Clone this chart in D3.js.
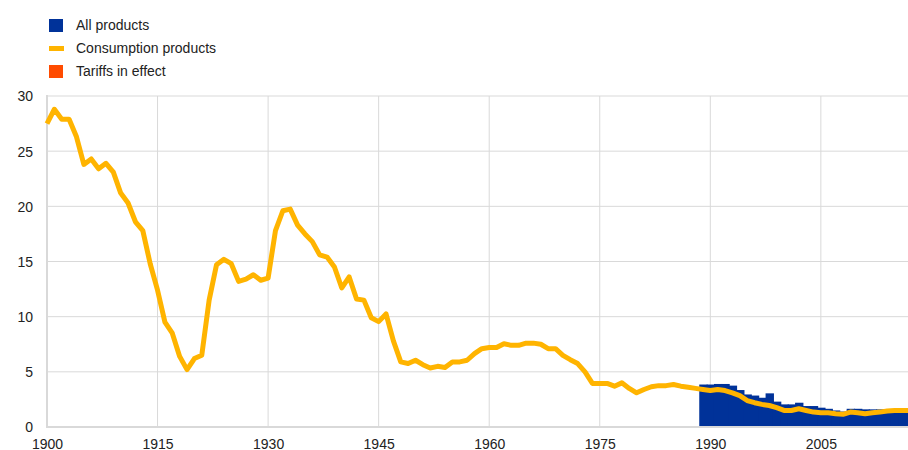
<!DOCTYPE html>
<html>
<head>
<meta charset="utf-8">
<script src="https://cdn.jsdelivr.net/npm/d3@7"></script>
<style>
  body { margin: 0; background: #fff; }
  svg { display: block; font-family: Arial, "Liberation Sans", sans-serif; }
  .axis path, .axis line { display: none; }
  .axis text { font-size: 14px; fill: #222; }
</style>
</head>
<body>
<svg id="chart" width="908" height="450"></svg>
<script>
// first year of the consumption series
const startYear = 1900
// consumption products, 1900-2017
const consumption = [
  27.5, 28.8, 27.9, 27.9, 26.3, 23.8, 24.3, 23.4, 23.9, 23.1,
  21.2, 20.3, 18.6, 17.8, 14.8, 12.4, 9.5, 8.5, 6.4, 5.2,
  6.2, 6.5, 11.5, 14.7, 15.2, 14.8, 13.2, 13.4, 13.8, 13.3,
  13.5, 17.8, 19.6, 19.75, 18.3, 17.5, 16.8, 15.6, 15.4, 14.5,
  12.6, 13.6, 11.6, 11.5, 9.9, 9.55, 10.25, 7.8, 5.9, 5.75,
  6.05, 5.65, 5.35, 5.5, 5.4, 5.9, 5.9, 6.05, 6.65, 7.1,
  7.2, 7.2, 7.55, 7.4, 7.4, 7.6, 7.6, 7.5, 7.1, 7.1,
  6.5, 6.1, 5.75, 5.0, 3.95, 3.95, 3.95, 3.7, 4.0, 3.5,
  3.1, 3.4, 3.65, 3.75, 3.75, 3.85, 3.7, 3.6, 3.5, 3.4,
  3.3, 3.4, 3.3, 3.1, 2.85, 2.4, 2.2, 2.05, 1.95, 1.75,
  1.5, 1.5, 1.65, 1.5, 1.35, 1.3, 1.3, 1.2, 1.15, 1.35,
  1.3, 1.2, 1.3, 1.35, 1.45, 1.5, 1.5, 1.5
]
// all products, 1989-2017
const allStart = 1989
const allProducts = [
  3.85, 3.85, 3.9, 3.9, 3.75, 3.35, 2.95, 2.85, 2.65, 3.05,
  2.3, 2.05, 2.05, 2.2, 1.9, 1.9, 1.75, 1.65, 1.5, 1.4,
  1.65, 1.65, 1.6, 1.6, 1.6, 1.6, 1.6, 1.6, 1.6
]
const xTicks = [1900, 1915, 1930, 1945, 1960, 1975, 1990, 2005]
const yTicks = [0, 5, 10, 15, 20, 25, 30]
const legendItems = [
  { name: 'All products', color: '#003299', kind: 'box' },
  { name: 'Consumption products', color: '#ffb400', kind: 'line' },
  { name: 'Tariffs in effect', color: '#ff4b00', kind: 'box' }
]

const lineData = consumption.map((v, i) => ({ year: startYear + i, value: v }))
const barData = allProducts.map((v, i) => ({ year: allStart + i, value: v }))

const svg = d3.select('#chart')
const plot = { left: 47, right: 908, top: 96, bottom: 427 }

const x = d3.scaleLinear().domain([1900, 2017]).range([plot.left, 909.3])
const y = d3.scaleLinear().domain([0, 30]).range([plot.bottom, plot.top])

// grid
svg.append('g').selectAll('line').data(yTicks.filter(d => d > 0))
  .enter().append('line')
  .attr('x1', plot.left).attr('x2', plot.right)
  .attr('y1', d => y(d)).attr('y2', d => y(d))
  .attr('stroke', '#d9d9d9').attr('stroke-width', 1)

svg.append('g').selectAll('line').data(xTicks.filter(d => d > 1900))
  .enter().append('line')
  .attr('x1', d => x(d)).attr('x2', d => x(d))
  .attr('y1', plot.top).attr('y2', plot.bottom)
  .attr('stroke', '#d9d9d9').attr('stroke-width', 1)

// all products bars, slightly overlapped so no seams show
svg.append('g').selectAll('rect').data(barData)
  .enter().append('rect')
  .attr('x', d => x(d.year - 0.5))
  .attr('width', (d, i) => x(d.year + 0.5) - x(d.year - 0.5) + (i < barData.length - 1 ? 1 : 0))
  .attr('y', d => y(d.value))
  .attr('height', d => y(0) - y(d.value))
  .attr('fill', '#003299')

// axis lines
svg.append('line').attr('x1', plot.left).attr('x2', plot.left)
  .attr('y1', plot.top - 1).attr('y2', plot.bottom + 1)
  .attr('stroke', '#d9d9d9').attr('stroke-width', 2)
svg.append('line').attr('x1', plot.left - 1).attr('x2', plot.right)
  .attr('y1', plot.bottom).attr('y2', plot.bottom)
  .attr('stroke', '#d9d9d9').attr('stroke-width', 2)

// consumption line
const line = d3.line().x(d => x(d.year)).y(d => y(d.value))
svg.append('path').datum(lineData)
  .attr('d', line)
  .attr('fill', 'none')
  .attr('stroke', '#ffb400')
  .attr('stroke-width', 5)
  .attr('stroke-linejoin', 'round')

// axes labels
svg.append('g').attr('class', 'axis')
  .attr('transform', `translate(${plot.left - 14},0)`)
  .call(d3.axisLeft(y).tickValues(yTicks).tickSize(0).tickPadding(0))
  .selectAll('text').attr('dy', '0.35em')

svg.append('g').attr('class', 'axis')
  .attr('transform', `translate(0,${plot.bottom + 12})`)
  .call(d3.axisBottom(x).tickValues(xTicks).tickFormat(d3.format('d')).tickSize(0).tickPadding(0))
  .selectAll('text').attr('dy', '0.71em')

// legend
const legend = svg.append('g').selectAll('g').data(legendItems)
  .enter().append('g')
  .attr('transform', (d, i) => `translate(49,${25.5 + i * 23})`)

legend.filter(d => d.kind === 'box').append('rect')
  .attr('x', 0).attr('y', -6.5).attr('width', 14).attr('height', 13)
  .attr('fill', d => d.color)
legend.filter(d => d.kind === 'line').append('rect')
  .attr('x', 0).attr('y', -2.5).attr('width', 15).attr('height', 5)
  .attr('fill', d => d.color)
legend.append('text')
  .attr('x', 27).attr('y', 0).attr('dy', '0.35em')
  .style('font-size', '14px').style('fill', '#222')
  .text(d => d.name)
</script>
</body>
</html>
